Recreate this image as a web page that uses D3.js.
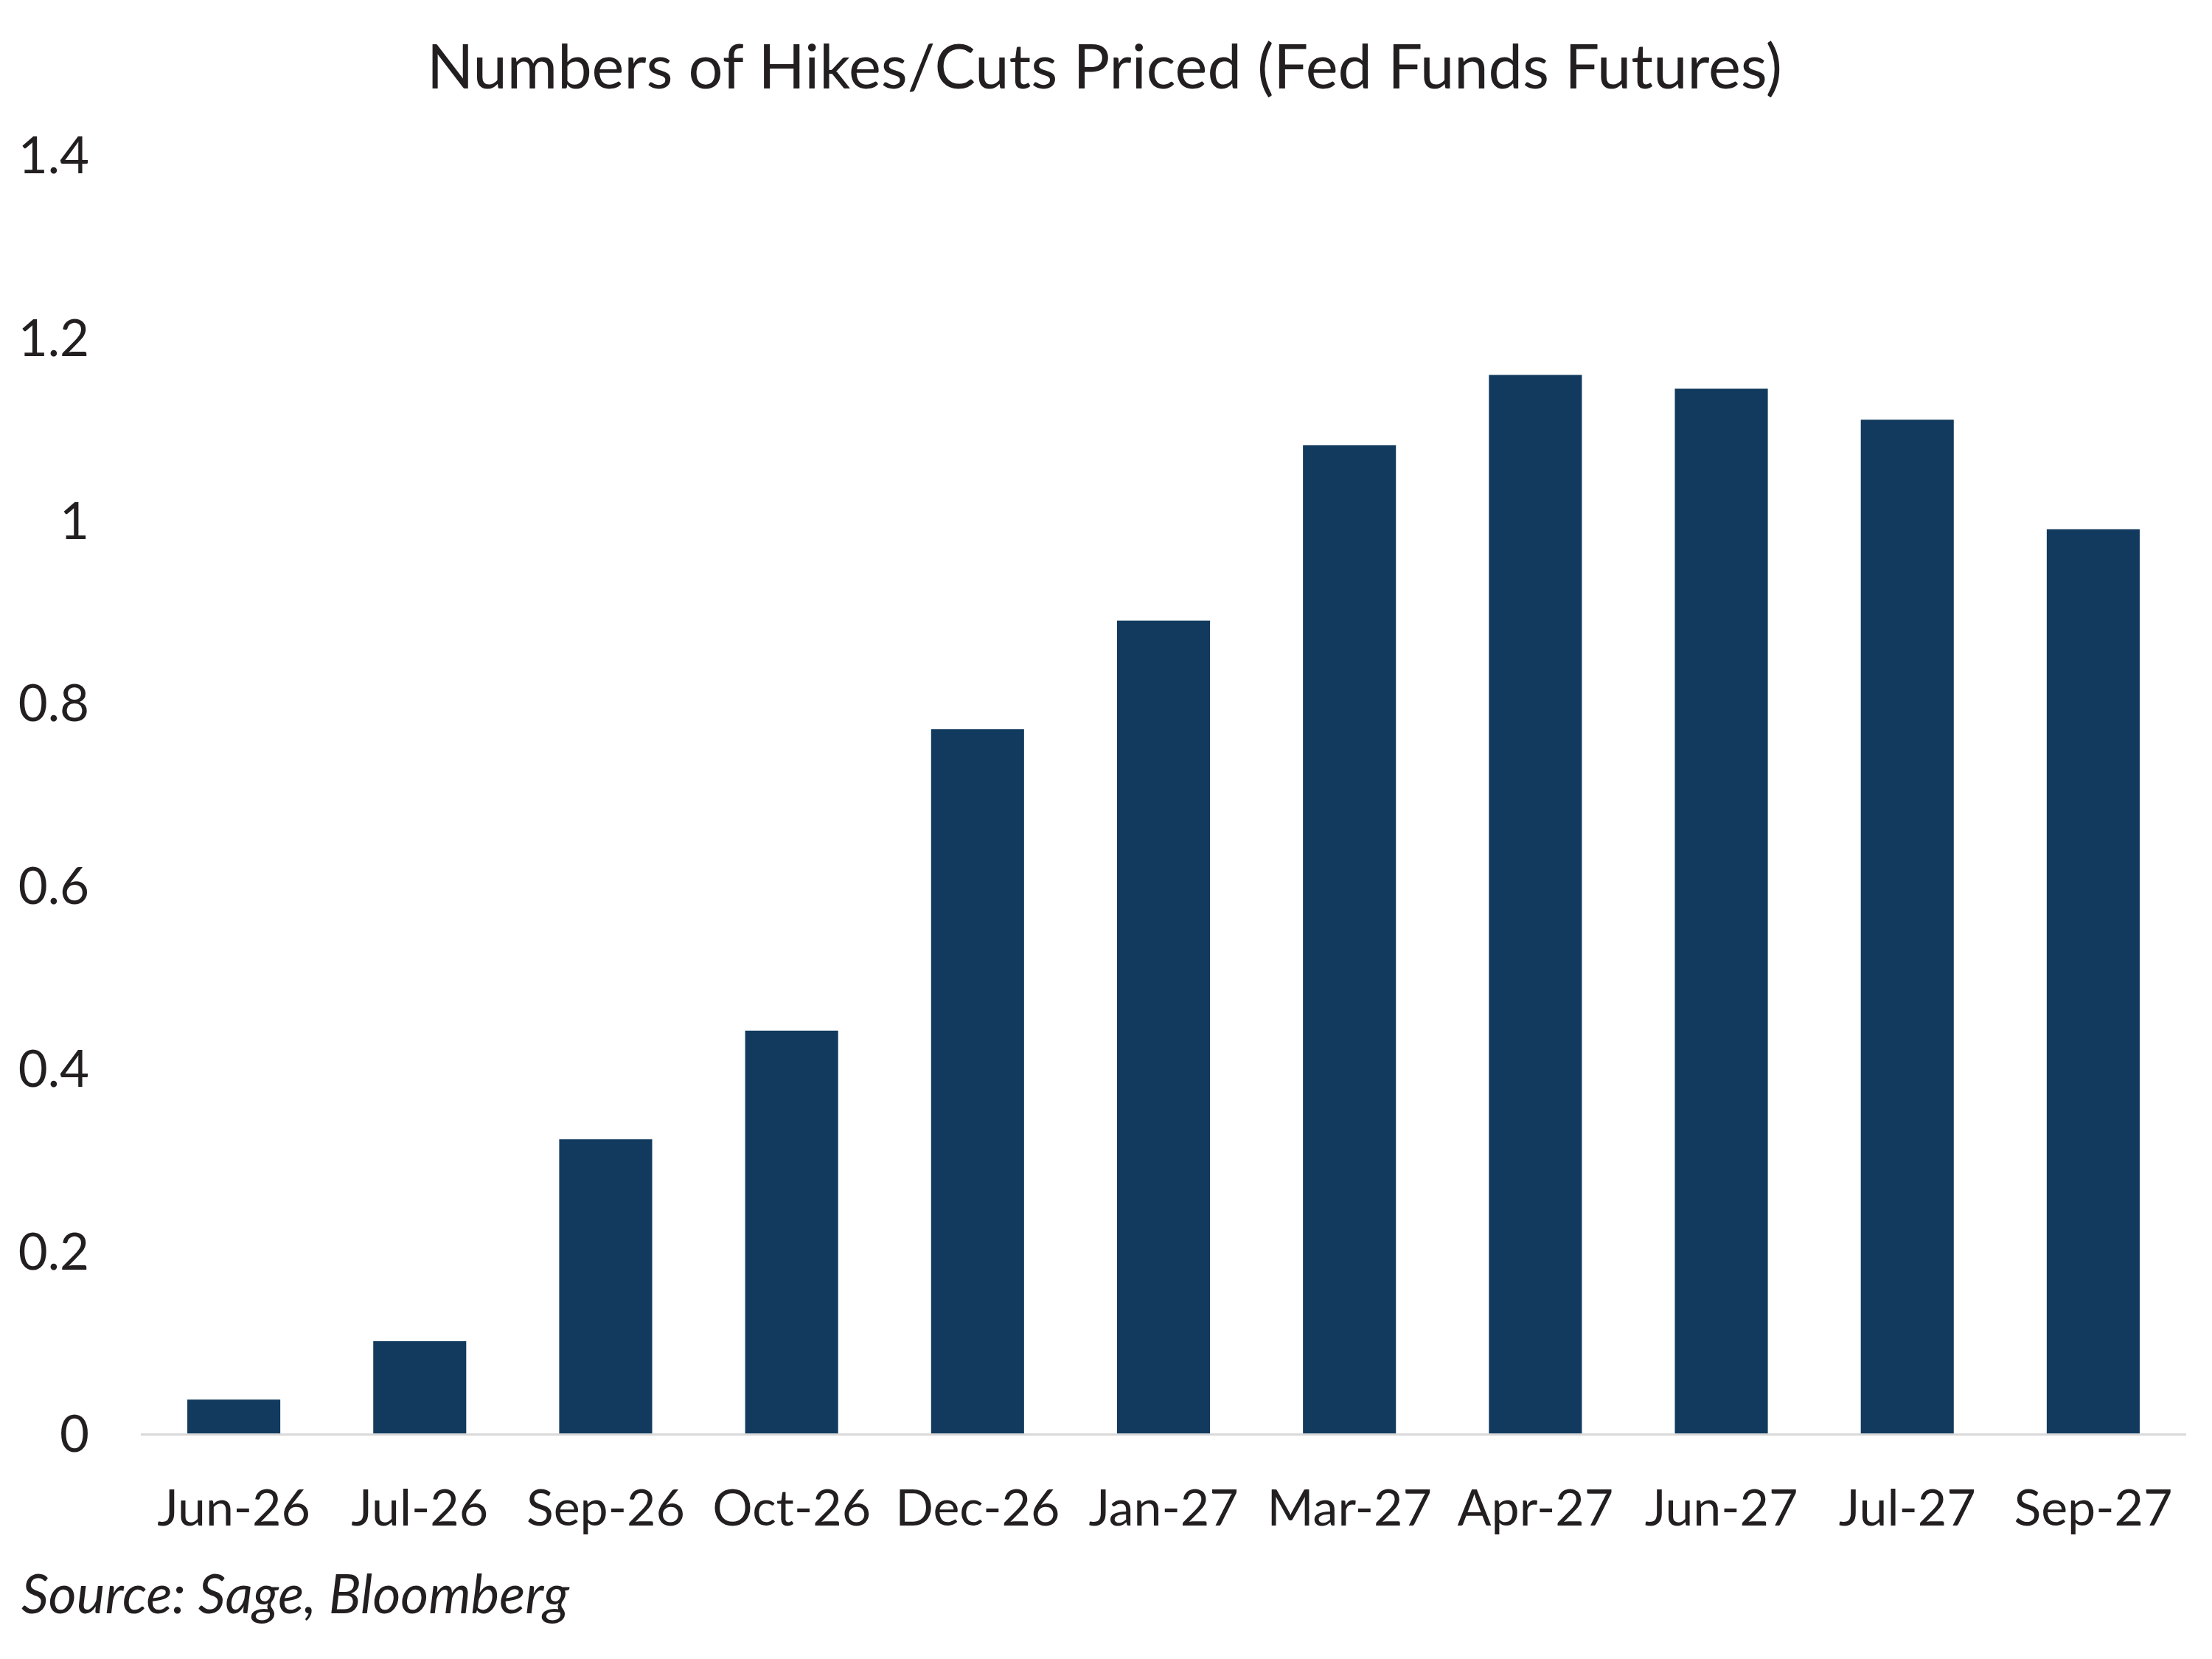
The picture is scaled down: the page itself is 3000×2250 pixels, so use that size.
<!DOCTYPE html>
<html>
<head>
<meta charset="utf-8">
<script src="https://cdn.jsdelivr.net/npm/d3@7"></script>
<style>
  html, body { margin: 0; padding: 0; background: #fff; }
  text { font-family: Lato, "Open Sans", sans-serif; fill: #231F20; }
</style>
</head>
<body>
<svg id="chart" width="3000" height="2250"></svg>
<script>
const categories = ["Jun-26","Jul-26","Sep-26","Oct-26","Dec-26","Jan-27","Mar-27","Apr-27","Jun-27","Jul-27","Sep-27"];
const values = [0.037, 0.101, 0.322, 0.441, 0.771, 0.890, 1.082, 1.159, 1.144, 1.110, 0.990];
const yTicks = [0, 0.2, 0.4, 0.6, 0.8, 1, 1.2, 1.4];
const chartTitle = "Numbers of Hikes/Cuts Priced (Fed Funds Futures)";
const sourceText = "Source: Sage, Bloomberg";

const svg = d3.select("#chart");
const plotLeft = 191, plotRight = 2965, plotTop = 210, plotBottom = 1944;

const x = d3.scaleBand().domain(categories).range([plotLeft, plotRight]).paddingInner(0.5).paddingOuter(0.25);
const y = d3.scaleLinear().domain([0, 1.4]).range([plotBottom, plotTop]);

svg.append("rect").attr("width", 3000).attr("height", 2250).attr("fill", "#fff");

svg.append("text").attr("x", 1498).attr("y", 120).attr("text-anchor", "middle")
  .attr("font-size", 83).text(chartTitle);

// y axis labels
const yAxis = d3.axisLeft(y).tickValues(yTicks).tickSize(0).tickPadding(0).tickFormat(d3.format("~g"));
const gy = svg.append("g").attr("transform", `translate(121,0)`).call(yAxis);
gy.select(".domain").remove();
gy.selectAll("text").attr("font-size", 69).attr("font-family", "Lato, sans-serif").attr("fill", "#231F20").attr("dy", "0.36em");

// bars
svg.append("g").selectAll("rect").data(values).join("rect")
  .attr("x", (d, i) => x(categories[i]))
  .attr("width", x.bandwidth())
  .attr("y", d => y(d))
  .attr("height", d => y(0) - y(d))
  .attr("fill", "#113A5E");

// x axis
const xAxis = d3.axisBottom(x).tickSize(0).tickPadding(0);
const gx = svg.append("g").attr("transform", `translate(0,${plotBottom})`).call(xAxis);
gx.select(".domain").attr("stroke", "#D9D9D9").attr("stroke-width", 3).attr("d", `M${plotLeft},1.5H${plotRight}`);
gx.selectAll("text").attr("font-size", 68).attr("font-family", "Lato, sans-serif").attr("fill", "#231F20")
  .attr("dy", null).attr("y", 125);

svg.append("text").attr("x", 29).attr("y", 2188).attr("font-size", 73).attr("font-style", "italic").text(sourceText);
</script>
</body>
</html>
